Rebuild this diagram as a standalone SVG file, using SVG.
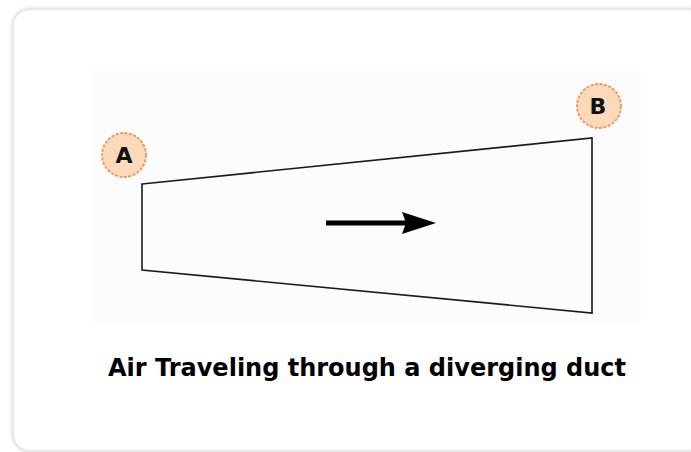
<svg xmlns="http://www.w3.org/2000/svg" width="691" height="452" viewBox="0 0 691 452">
<defs>
<filter id="sh" x="-5%" y="-5%" width="110%" height="110%">
<feGaussianBlur in="SourceAlpha" stdDeviation="2.5"/>
<feComponentTransfer><feFuncA type="linear" slope="0.3"/></feComponentTransfer>
<feMerge><feMergeNode/><feMergeNode in="SourceGraphic"/></feMerge>
</filter>
</defs>
<style>
.lbl{fill:#fdd9bb;stroke:#f49050;stroke-width:1.8;stroke-dasharray:3 1.5}
.lt{font-family:"DejaVu Sans",Verdana,sans-serif;font-weight:bold;font-size:22px;fill:#111;text-anchor:middle}
.duct{fill:none;stroke:#1a1a1a;stroke-width:1.6}
</style>
<rect x="0" y="0" width="691" height="452" fill="#fff"/>
<rect x="14" y="10" width="690" height="440" rx="15" fill="#fff" stroke="#ececec" stroke-width="0.8" filter="url(#sh)"/>
<rect x="93" y="70" width="548" height="253" fill="#fcfcfc"/>
<g id="duct">
<path class="duct" d="M142,184 L592,138 L592,313 L142,270 Z"/>
</g>
<g id="nodeA">
<circle class="lbl" cx="124" cy="155" r="22"/>
<text class="lt" x="124" y="163">A</text>
</g>
<g id="nodeB">
<circle class="lbl" cx="599" cy="106" r="22"/>
<text class="lt" x="598" y="114">B</text>
</g>
<g id="connectors">
<line x1="326" y1="223" x2="406" y2="223" stroke="#000" stroke-width="5"/>
<path d="M402,212 L436,223 L402,234 L406,223 Z" fill="#000"/>
</g>
<text x="367" y="376" font-family="DejaVu Sans,Verdana,sans-serif" font-weight="bold" font-size="24" text-anchor="middle" fill="#000">Air Traveling through a diverging duct</text>
</svg>
